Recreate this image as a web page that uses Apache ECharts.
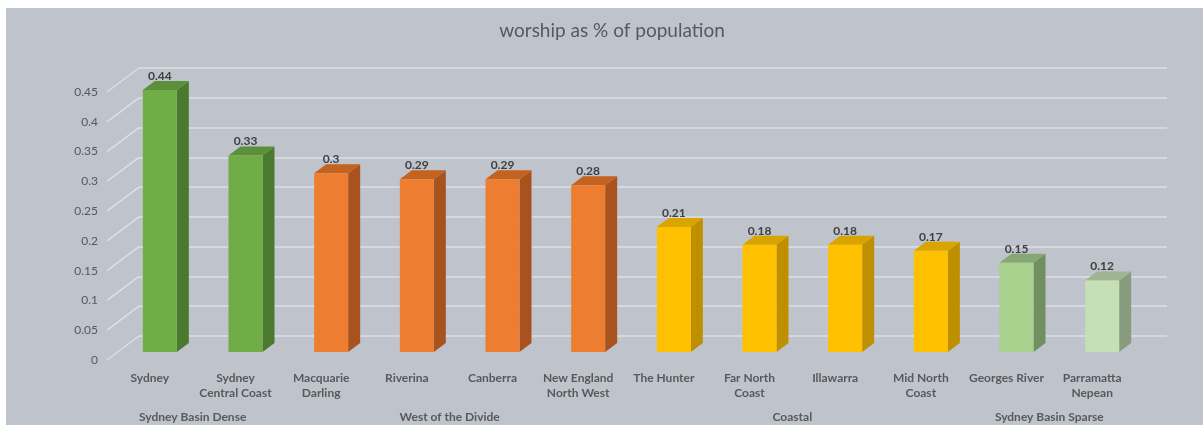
<!DOCTYPE html>
<html>
<head>
<meta charset="utf-8">
<script src="https://cdn.jsdelivr.net/npm/echarts@6/dist/echarts.min.js"></script>
<style>
  html, body { margin: 0; padding: 0; background: #ffffff; }
  #chart { width: 1203px; height: 425px; }
</style>
</head>
<body>
<div id="chart"></div>
<script>
// ---- data ----
const categories = ['Sydney', 'Sydney\nCentral Coast', 'Macquarie\nDarling', 'Riverina', 'Canberra',
  'New England\nNorth West', 'The Hunter', 'Far North\nCoast', 'Illawarra', 'Mid North\nCoast',
  'Georges River', 'Parramatta\nNepean'];
const values = [0.44, 0.33, 0.30, 0.29, 0.29, 0.28, 0.21, 0.18, 0.18, 0.17, 0.15, 0.12];
const groupNames = ['Sydney Basin Dense', 'West of the Divide', 'Coastal', 'Sydney Basin Sparse'];
const groupStart = [0, 2, 6, 10];
const groupEnd = [1, 5, 9, 11];
const yTicks = [0, 0.05, 0.1, 0.15, 0.2, 0.25, 0.3, 0.35, 0.4, 0.45];

// ---- styles ----
const frontColors = ['#70ad47', '#70ad47', '#ed7d31', '#ed7d31', '#ed7d31', '#ed7d31',
  '#ffc000', '#ffc000', '#ffc000', '#ffc000', '#a9d18e', '#c5e0b4'];
const sideColors = ['#4b7a2e', '#4b7a2e', '#a8531d', '#a8531d', '#a8531d', '#a8531d',
  '#bf8f00', '#bf8f00', '#bf8f00', '#bf8f00', '#728f5f', '#889c7d'];
const topColors = ['#5b8f3a', '#5b8f3a', '#c4621f', '#c4621f', '#c4621f', '#c4621f',
  '#d9a300', '#d9a300', '#d9a300', '#d9a300', '#87a772', '#9fb592'];

const BAR_W = 34, OFF_X = 10, OFF_Y = -8, DEPTH_X = 12, DEPTH_Y = 9;
const WALL_X = 32, WALL_Y = 24;
const FONT = 'Lato, "Open Sans", sans-serif';

const chart = echarts.init(document.getElementById('chart'));

const option = {
  backgroundColor: '#bec3cc',
  animation: false,
  graphic: [
    { type: 'rect', left: 0, top: 0, shape: { width: 1203, height: 8 }, style: { fill: '#ffffff' }, z: 100 },
    { type: 'rect', left: 0, top: 0, shape: { width: 6, height: 425 }, style: { fill: '#ffffff' }, z: 100 }
  ],
  title: {
    text: 'worship as % of population',
    left: 607, top: 16, textAlign: 'center',
    textStyle: { color: '#595959', fontSize: 19, fontWeight: 'normal', fontFamily: FONT }
  },
  grid: [
    { left: 107, right: 68, top: 92, bottom: 65 },
    { left: 139, right: 36, top: 68, bottom: 89 }
  ],
  xAxis: [
    {
      type: 'category', gridIndex: 0, data: categories,
      axisLine: { show: false }, axisTick: { show: false },
      axisLabel: { color: '#595959', fontSize: 12, fontWeight: 'bold', fontFamily: FONT, margin: 11, lineHeight: 15, interval: 0 }
    },
    { type: 'category', gridIndex: 1, data: categories, show: false }
  ],
  yAxis: [
    {
      type: 'value', gridIndex: 0, min: 0, max: 0.45, interval: 0.05,
      axisLine: { show: false }, axisTick: { show: false }, splitLine: { show: false },
      axisLabel: { color: '#595959', fontSize: 12, fontFamily: FONT, margin: 9 }
    },
    {
      type: 'value', gridIndex: 1, min: 0, max: 0.45, interval: 0.05,
      axisLine: { show: false }, axisTick: { show: false }, axisLabel: { show: false },
      splitLine: { show: true, lineStyle: { color: '#dde0e5', width: 1.5 } }
    }
  ],
  series: [
    {
      // slanted side-wall lines from front labels to back wall
      type: 'custom', xAxisIndex: 0, yAxisIndex: 0, clip: false, silent: true,
      data: yTicks.map(v => [0, v]),
      renderItem(params, api) {
        const p = api.coord([0, api.value(1)]);
        const x = params.coordSys.x;
        return {
          type: 'line',
          shape: { x1: x, y1: p[1], x2: x + WALL_X, y2: p[1] - WALL_Y },
          style: { stroke: '#dde0e5', lineWidth: 1.5 }
        };
      }
    },
    {
      type: 'custom', xAxisIndex: 0, yAxisIndex: 0, clip: false, silent: true,
      data: values.map((v, i) => [i, v]),
      renderItem(params, api) {
        const i = api.value(0), v = api.value(1);
        const base = api.coord([i, 0]);
        const top = api.coord([i, v]);
        const cx = base[0] + OFF_X;
        const x0 = cx - BAR_W / 2, x1 = cx + BAR_W / 2;
        const yb = base[1] + OFF_Y, yt = top[1] + OFF_Y;
        return {
          type: 'group',
          children: [
            { type: 'polygon', shape: { points: [[x1, yt], [x1 + DEPTH_X, yt - DEPTH_Y], [x1 + DEPTH_X, yb - DEPTH_Y], [x1, yb]] },
              style: { fill: sideColors[i] } },
            { type: 'polygon', shape: { points: [[x0, yt], [x0 + DEPTH_X, yt - DEPTH_Y], [x1 + DEPTH_X, yt - DEPTH_Y], [x1, yt]] },
              style: { fill: topColors[i] } },
            { type: 'rect', shape: { x: x0, y: yt, width: BAR_W, height: yb - yt },
              style: { fill: frontColors[i] } },
            { type: 'text', style: { text: String(v), x: cx, y: yt - 14, align: 'center', verticalAlign: 'middle',
              fill: '#404040', font: 'bold 12px ' + FONT } }
          ]
        };
      }
    },
    {
      // group labels (second level of category axis)
      type: 'custom', xAxisIndex: 0, yAxisIndex: 0, clip: false, silent: true,
      data: groupNames.map((n, k) => [groupStart[k], groupEnd[k]]),
      renderItem(params, api) {
        const a = api.coord([api.value(0), 0]);
        const b = api.coord([api.value(1), 0]);
        return {
          type: 'text',
          style: { text: groupNames[params.dataIndex], x: (a[0] + b[0]) / 2, y: a[1] + 57,
            align: 'center', verticalAlign: 'middle', fill: '#595959', font: 'bold 12px ' + FONT }
        };
      }
    }
  ]
};
chart.setOption(option);
</script>
</body>
</html>
